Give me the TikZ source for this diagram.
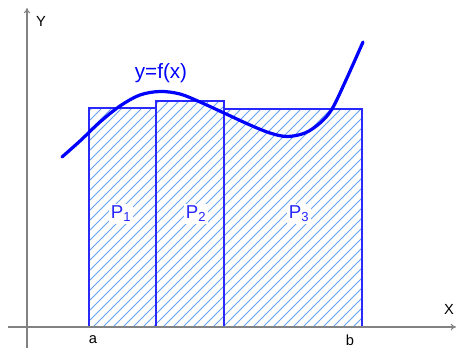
\documentclass[tikz,border=0pt]{standalone}
\usepackage{fontspec}
\setmainfont{Liberation Sans}
\usetikzlibrary{arrows.meta}
\definecolor{curveblue}{RGB}{0,0,255}
\definecolor{rectblue}{RGB}{40,40,255}
\definecolor{hatchblue}{RGB}{100,160,245}
\definecolor{axisgray}{RGB}{130,130,130}
\begin{document}
\begin{tikzpicture}[x=0.75pt,y=-0.75pt,
  axis/.style={draw=axisgray,line width=0.8pt,-{To[length=4pt,width=5pt]}},
  rectbox/.style={draw=rectblue,line width=1.1pt},
  hatchline/.style={draw=hatchblue,line width=0.6pt},
  plabel/.style={text=rectblue,fill=white,inner sep=1.5pt,font=\fontsize{14}{16}\selectfont},
  axlabel/.style={text=black,font=\fontsize{11}{13}\selectfont},
  fcurve/.style={draw=curveblue,line width=2.4pt}]
\useasboundingbox (0,0) rectangle (456,348);
% coordinates
\coordinate (ybot) at (27,348);
\coordinate (ytop) at (27,8);
\coordinate (xleft) at (8,327);
\coordinate (xright) at (456,327);
% hatching
\begin{scope}
  \clip (89,108) rectangle (156,327) (156,101) rectangle (224,327) (224,109) rectangle (362,327);
  \foreach \c in {-300,-290,...,400} {
    \draw[hatchline] (\c,330) -- ++(280,-280);
  }
\end{scope}
% rectangles
\draw[rectbox] (89,108) rectangle (156,327);
\draw[rectbox] (156,101) rectangle (224,327);
\draw[rectbox] (224,109) rectangle (362,327);
% axes
\draw[axis] (ybot) -- (ytop);
\draw[axis] (xleft) -- (xright);
\node[axlabel] (ylab) at (41,21) {Y};
\node[axlabel] (xlab) at (449,309) {X};
\node[axlabel] (alab) at (93,340) {a};
\node[axlabel] (blab) at (350,340) {b};
% curve
\draw[fcurve,line cap=round] plot[smooth,tension=0.55] coordinates {(62,157) (80,141) (100,122) (120,106) (140,95) (160,91.5) (180,94) (200,102) (224,113) (250,125) (270,133) (287,136.5) (305,133) (320,123) (332,109) (346,80) (363,42)};
\node[text=curveblue,font=\fontsize{15.5}{18}\selectfont] (flab) at (161,73) {y=f(x)};
% labels
\node[plabel] (p1) at (121,214) {P\textsubscript{1}};
\node[plabel] (p2) at (196,214) {P\textsubscript{2}};
\node[plabel] (p3) at (299,214) {P\textsubscript{3}};
\end{tikzpicture}
\end{document}
